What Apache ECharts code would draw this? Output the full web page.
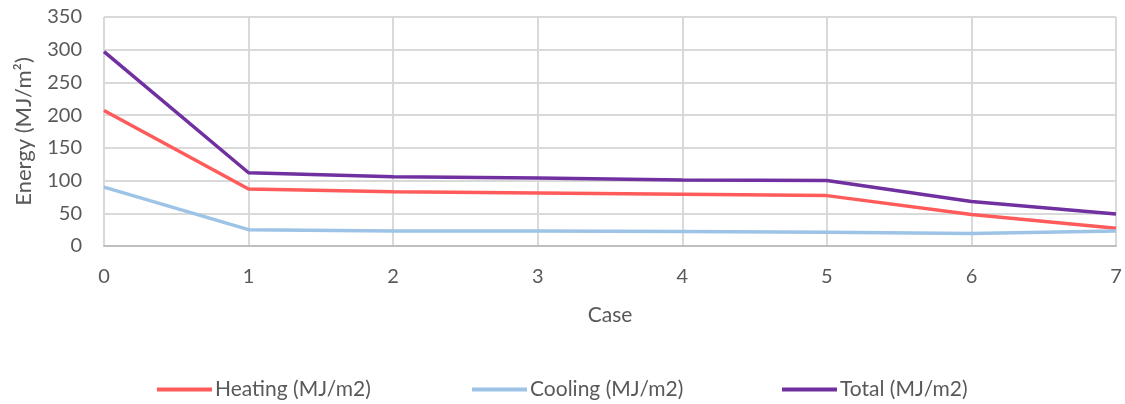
<!DOCTYPE html>
<html><head><meta charset="utf-8">
<script src="https://cdn.jsdelivr.net/npm/echarts@6/dist/echarts.min.js"></script>
<style>html,body{margin:0;padding:0;background:#fff}#c{width:1125px;height:404px}</style>
</head><body><div id="c"></div>
<script>
var cases = ['0','1','2','3','4','5','6','7'];
var heating = [207, 87, 83, 81, 79, 77, 48, 27];
var cooling = [90, 25, 23, 23, 22, 21, 19, 23];
var total = [297, 112, 106, 104, 101, 100, 68, 49];
var seriesNames = ['Heating (MJ/m2)', 'Cooling (MJ/m2)', 'Total (MJ/m2)'];
var colors = ['#FF5B5B', '#9DC3E6', '#7030A0'];
var font = 'Lato, "Open Sans", sans-serif';
var legendLefts = [157, 472, 782];
var chart = echarts.init(document.getElementById('c'));
chart.setOption({
  animation: false,
  color: colors,
  textStyle: {fontFamily: font},
  grid: {left: 104, right: 9, top: 17, bottom: 158},
  legend: seriesNames.map(function (n, i) {
    return {
      top: 379, left: legendLefts[i], padding: 0,
      icon: 'rect', itemWidth: 55, itemHeight: 4, itemGap: 0,
      textStyle: {fontSize: 21, color: '#595959', fontFamily: font, padding: [0,0,0,-2]},
      data: [n]
    };
  }),
  xAxis: {
    type: 'category', data: cases, boundaryGap: false,
    name: 'Case', nameLocation: 'middle', nameGap: 59,
    nameTextStyle: {fontSize: 21, color: '#595959'},
    axisLine: {lineStyle: {color: '#BFBFBF', width: 2}},
    axisTick: {show: false},
    axisLabel: {fontSize: 20, color: '#595959', margin: 21},
    splitLine: {show: true, lineStyle: {color: '#D9D9D9', width: 2}}
  },
  yAxis: {
    type: 'value', min: 0, max: 350, interval: 50,
    name: 'Energy (MJ/m²)', nameLocation: 'middle', nameGap: 69, nameRotate: 90,
    nameTextStyle: {fontSize: 22, color: '#595959'},
    axisLine: {show: false}, axisTick: {show: false},
    axisLabel: {fontSize: 20, color: '#595959', margin: 22},
    splitLine: {lineStyle: {color: '#D9D9D9', width: 2}}
  },
  series: [
    {name: seriesNames[0], type: 'line', data: heating, symbol: 'none', lineStyle: {width: 3.5}},
    {name: seriesNames[1], type: 'line', data: cooling, symbol: 'none', lineStyle: {width: 3.5}},
    {name: seriesNames[2], type: 'line', data: total, symbol: 'none', lineStyle: {width: 3.5}}
  ]
});
</script></body></html>
